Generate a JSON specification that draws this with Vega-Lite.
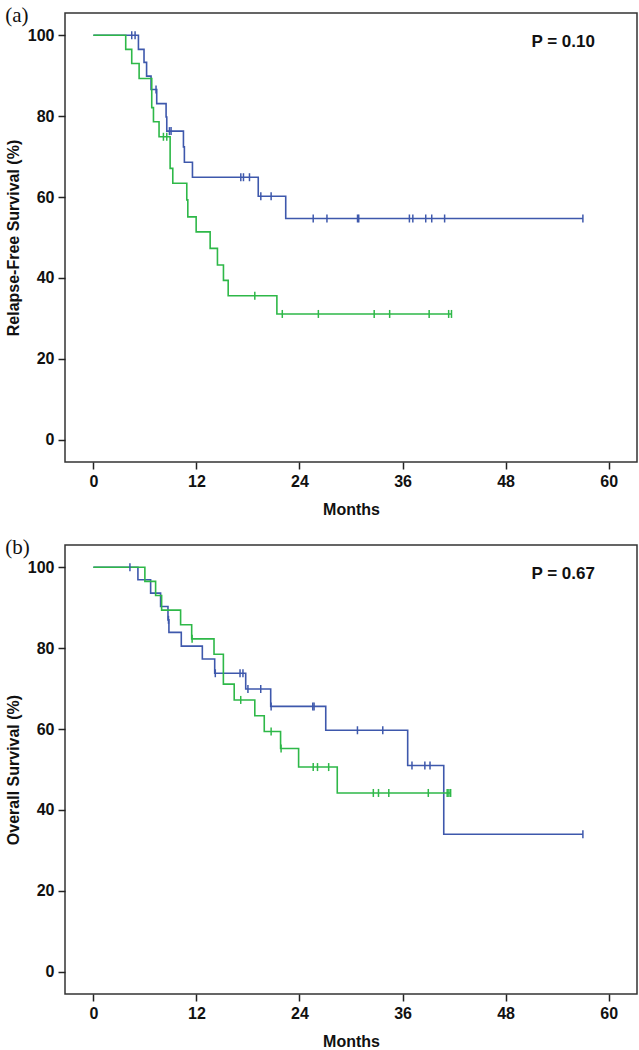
{
  "$schema": "https://vega.github.io/schema/vega-lite/v6.json",
  "background": "white",
  "padding": {"left": 4, "top": 4, "right": 0, "bottom": 0},
  "spacing": 18,
  "config": {
    "view": {"stroke": "#333333", "strokeWidth": 1.5},
    "axis": {
      "grid": false, "domain": false,
      "tickColor": "#222222", "tickSize": 7, "tickWidth": 1.5,
      "labelFont": "Liberation Sans", "labelFontWeight": "bold", "labelFontSize": 16, "labelColor": "#111111", "labelPadding": 4,
      "titleFont": "Liberation Sans", "titleFontWeight": "bold", "titleFontSize": 16, "titleColor": "#111111"
    },
    "title": {"font": "Liberation Serif", "fontSize": 21, "fontWeight": "normal", "color": "#111111", "anchor": "start", "frame": "bounds", "offset": -13}
  },
  "data": {"values": [
    {"p":"a","g":"blue","t":0,"s":100,"c":0},
    {"p":"a","g":"blue","t":4.47,"s":100,"c":1},
    {"p":"a","g":"blue","t":4.86,"s":100,"c":1},
    {"p":"a","g":"blue","t":5.25,"s":96.5,"c":0},
    {"p":"a","g":"blue","t":5.9,"s":93.3,"c":0},
    {"p":"a","g":"blue","t":6.2,"s":89.9,"c":0},
    {"p":"a","g":"blue","t":6.72,"s":86.6,"c":0},
    {"p":"a","g":"blue","t":7.3,"s":86.6,"c":1},
    {"p":"a","g":"blue","t":7.38,"s":83.1,"c":0},
    {"p":"a","g":"blue","t":8.47,"s":79.8,"c":0},
    {"p":"a","g":"blue","t":8.55,"s":76.3,"c":0},
    {"p":"a","g":"blue","t":8.86,"s":76.3,"c":1},
    {"p":"a","g":"blue","t":9.05,"s":76.3,"c":1},
    {"p":"a","g":"blue","t":10.49,"s":72.4,"c":0},
    {"p":"a","g":"blue","t":10.6,"s":68.6,"c":0},
    {"p":"a","g":"blue","t":11.54,"s":64.9,"c":0},
    {"p":"a","g":"blue","t":17.17,"s":64.9,"c":1},
    {"p":"a","g":"blue","t":17.48,"s":64.9,"c":1},
    {"p":"a","g":"blue","t":18.18,"s":64.9,"c":1},
    {"p":"a","g":"blue","t":19.2,"s":60.2,"c":0},
    {"p":"a","g":"blue","t":19.5,"s":60.2,"c":1},
    {"p":"a","g":"blue","t":20.7,"s":60.2,"c":1},
    {"p":"a","g":"blue","t":22.4,"s":54.7,"c":0},
    {"p":"a","g":"blue","t":25.6,"s":54.7,"c":1},
    {"p":"a","g":"blue","t":27.2,"s":54.7,"c":1},
    {"p":"a","g":"blue","t":30.76,"s":54.7,"c":1},
    {"p":"a","g":"blue","t":30.9,"s":54.7,"c":1},
    {"p":"a","g":"blue","t":36.8,"s":54.7,"c":1},
    {"p":"a","g":"blue","t":37.2,"s":54.7,"c":1},
    {"p":"a","g":"blue","t":38.7,"s":54.7,"c":1},
    {"p":"a","g":"blue","t":39.4,"s":54.7,"c":1},
    {"p":"a","g":"blue","t":40.9,"s":54.7,"c":1},
    {"p":"a","g":"blue","t":57.0,"s":54.7,"c":1},
    {"p":"a","g":"green","t":0,"s":100,"c":0},
    {"p":"a","g":"green","t":3.77,"s":96.5,"c":0},
    {"p":"a","g":"green","t":4.47,"s":93.0,"c":0},
    {"p":"a","g":"green","t":5.33,"s":89.3,"c":0},
    {"p":"a","g":"green","t":6.8,"s":82.1,"c":0},
    {"p":"a","g":"green","t":7.0,"s":78.6,"c":0},
    {"p":"a","g":"green","t":7.65,"s":74.9,"c":0},
    {"p":"a","g":"green","t":8.16,"s":74.9,"c":1},
    {"p":"a","g":"green","t":8.55,"s":74.9,"c":1},
    {"p":"a","g":"green","t":8.94,"s":67.1,"c":0},
    {"p":"a","g":"green","t":9.25,"s":63.4,"c":0},
    {"p":"a","g":"green","t":10.88,"s":59.3,"c":0},
    {"p":"a","g":"green","t":11.0,"s":55.1,"c":0},
    {"p":"a","g":"green","t":11.97,"s":51.4,"c":0},
    {"p":"a","g":"green","t":13.6,"s":47.3,"c":0},
    {"p":"a","g":"green","t":14.45,"s":43.2,"c":0},
    {"p":"a","g":"green","t":15.15,"s":39.4,"c":0},
    {"p":"a","g":"green","t":15.7,"s":35.6,"c":0},
    {"p":"a","g":"green","t":18.8,"s":35.6,"c":1},
    {"p":"a","g":"green","t":21.37,"s":31.1,"c":0},
    {"p":"a","g":"green","t":22.0,"s":31.1,"c":1},
    {"p":"a","g":"green","t":26.2,"s":31.1,"c":1},
    {"p":"a","g":"green","t":32.7,"s":31.1,"c":1},
    {"p":"a","g":"green","t":34.5,"s":31.1,"c":1},
    {"p":"a","g":"green","t":39.1,"s":31.1,"c":1},
    {"p":"a","g":"green","t":41.37,"s":31.1,"c":1},
    {"p":"a","g":"green","t":41.7,"s":31.1,"c":1},
    {"p":"b","g":"blue","t":0,"s":100,"c":0},
    {"p":"b","g":"blue","t":4.26,"s":100,"c":1},
    {"p":"b","g":"blue","t":5.19,"s":96.9,"c":0},
    {"p":"b","g":"blue","t":6.67,"s":93.6,"c":0},
    {"p":"b","g":"blue","t":7.83,"s":90.3,"c":0},
    {"p":"b","g":"blue","t":8.69,"s":87.0,"c":0},
    {"p":"b","g":"blue","t":8.75,"s":87.0,"c":1},
    {"p":"b","g":"blue","t":8.8,"s":83.9,"c":0},
    {"p":"b","g":"blue","t":10.24,"s":80.5,"c":0},
    {"p":"b","g":"blue","t":12.69,"s":77.3,"c":0},
    {"p":"b","g":"blue","t":14.13,"s":73.8,"c":0},
    {"p":"b","g":"blue","t":14.2,"s":73.8,"c":1},
    {"p":"b","g":"blue","t":17.08,"s":73.8,"c":1},
    {"p":"b","g":"blue","t":17.42,"s":73.8,"c":1},
    {"p":"b","g":"blue","t":17.74,"s":69.9,"c":0},
    {"p":"b","g":"blue","t":18.0,"s":69.9,"c":1},
    {"p":"b","g":"blue","t":19.49,"s":69.9,"c":1},
    {"p":"b","g":"blue","t":20.65,"s":65.6,"c":0},
    {"p":"b","g":"blue","t":20.7,"s":65.6,"c":1},
    {"p":"b","g":"blue","t":25.55,"s":65.6,"c":1},
    {"p":"b","g":"blue","t":25.7,"s":65.6,"c":1},
    {"p":"b","g":"blue","t":27.06,"s":59.7,"c":0},
    {"p":"b","g":"blue","t":30.75,"s":59.7,"c":1},
    {"p":"b","g":"blue","t":33.7,"s":59.7,"c":1},
    {"p":"b","g":"blue","t":36.6,"s":51.0,"c":0},
    {"p":"b","g":"blue","t":37.1,"s":51.0,"c":1},
    {"p":"b","g":"blue","t":38.6,"s":51.0,"c":1},
    {"p":"b","g":"blue","t":39.2,"s":51.0,"c":1},
    {"p":"b","g":"blue","t":40.8,"s":34.0,"c":0},
    {"p":"b","g":"blue","t":57.0,"s":34.0,"c":1},
    {"p":"b","g":"green","t":0,"s":100,"c":0},
    {"p":"b","g":"green","t":6.0,"s":96.5,"c":0},
    {"p":"b","g":"green","t":7.25,"s":93.0,"c":0},
    {"p":"b","g":"green","t":7.95,"s":89.4,"c":0},
    {"p":"b","g":"green","t":10.16,"s":85.8,"c":0},
    {"p":"b","g":"green","t":11.45,"s":82.3,"c":0},
    {"p":"b","g":"green","t":11.5,"s":82.3,"c":1},
    {"p":"b","g":"green","t":14.05,"s":78.5,"c":0},
    {"p":"b","g":"green","t":15.14,"s":71.1,"c":0},
    {"p":"b","g":"green","t":16.4,"s":67.2,"c":0},
    {"p":"b","g":"green","t":17.16,"s":67.2,"c":1},
    {"p":"b","g":"green","t":18.8,"s":63.3,"c":0},
    {"p":"b","g":"green","t":19.9,"s":59.4,"c":0},
    {"p":"b","g":"green","t":20.7,"s":59.4,"c":1},
    {"p":"b","g":"green","t":21.8,"s":55.2,"c":0},
    {"p":"b","g":"green","t":21.86,"s":55.2,"c":1},
    {"p":"b","g":"green","t":23.9,"s":50.6,"c":0},
    {"p":"b","g":"green","t":25.6,"s":50.6,"c":1},
    {"p":"b","g":"green","t":26.1,"s":50.6,"c":1},
    {"p":"b","g":"green","t":27.4,"s":50.6,"c":1},
    {"p":"b","g":"green","t":28.4,"s":44.2,"c":0},
    {"p":"b","g":"green","t":32.6,"s":44.2,"c":1},
    {"p":"b","g":"green","t":33.2,"s":44.2,"c":1},
    {"p":"b","g":"green","t":34.4,"s":44.2,"c":1},
    {"p":"b","g":"green","t":39.0,"s":44.2,"c":1},
    {"p":"b","g":"green","t":41.2,"s":44.2,"c":1},
    {"p":"b","g":"green","t":41.4,"s":44.2,"c":1},
    {"p":"b","g":"green","t":41.6,"s":44.2,"c":1}
  ]},
  "vconcat": [
    {
      "title": {"text": "(a)"},
      "width": 572, "height": 449,
      "layer": [
        {
          "transform": [{"filter": "datum.p == 'a'"}],
          "mark": {"type": "line", "interpolate": "step-after", "strokeWidth": 1.6},
          "encoding": {
            "x": {"field": "t", "type": "quantitative", "scale": {"domain": [-3.3, 63.3], "nice": false, "zero": false}, "axis": {"values": [0, 12, 24, 36, 48, 60], "title": "Months", "titlePadding": 12}},
            "y": {"field": "s", "type": "quantitative", "scale": {"domain": [-5.5, 105.5], "nice": false, "zero": false}, "axis": {"values": [0, 20, 40, 60, 80, 100], "title": "Relapse-Free Survival (%)", "titlePadding": 6}},
            "color": {"field": "g", "type": "nominal", "scale": {"domain": ["blue", "green"], "range": ["#3E58AC", "#2EB848"]}, "legend": null}
          }
        },
        {
          "transform": [{"filter": "datum.p == 'a' && datum.c == 1"}],
          "mark": {"type": "point", "shape": "M0,-1L0,1", "size": 64, "strokeWidth": 1.5, "filled": false, "opacity": 1},
          "encoding": {
            "x": {"field": "t", "type": "quantitative"},
            "y": {"field": "s", "type": "quantitative"},
            "color": {"field": "g", "type": "nominal", "legend": null}
          }
        },
        {
          "data": {"values": [{"label": "P = 0.10"}]},
          "mark": {"type": "text", "font": "Liberation Sans", "fontWeight": "bold", "fontSize": 17, "color": "#111111"},
          "encoding": {
            "x": {"datum": 54.7, "type": "quantitative"},
            "y": {"datum": 98.3, "type": "quantitative"},
            "text": {"field": "label"}
          }
        }
      ]
    },
    {
      "title": {"text": "(b)"},
      "width": 572, "height": 449,
      "layer": [
        {
          "transform": [{"filter": "datum.p == 'b'"}],
          "mark": {"type": "line", "interpolate": "step-after", "strokeWidth": 1.6},
          "encoding": {
            "x": {"field": "t", "type": "quantitative", "scale": {"domain": [-3.3, 63.3], "nice": false, "zero": false}, "axis": {"values": [0, 12, 24, 36, 48, 60], "title": "Months", "titlePadding": 12}},
            "y": {"field": "s", "type": "quantitative", "scale": {"domain": [-5.5, 105.5], "nice": false, "zero": false}, "axis": {"values": [0, 20, 40, 60, 80, 100], "title": "Overall Survival (%)", "titlePadding": 6}},
            "color": {"field": "g", "type": "nominal", "scale": {"domain": ["blue", "green"], "range": ["#3E58AC", "#2EB848"]}, "legend": null}
          }
        },
        {
          "transform": [{"filter": "datum.p == 'b' && datum.c == 1"}],
          "mark": {"type": "point", "shape": "M0,-1L0,1", "size": 64, "strokeWidth": 1.5, "filled": false, "opacity": 1},
          "encoding": {
            "x": {"field": "t", "type": "quantitative"},
            "y": {"field": "s", "type": "quantitative"},
            "color": {"field": "g", "type": "nominal", "legend": null}
          }
        },
        {
          "data": {"values": [{"label": "P = 0.67"}]},
          "mark": {"type": "text", "font": "Liberation Sans", "fontWeight": "bold", "fontSize": 17, "color": "#111111"},
          "encoding": {
            "x": {"datum": 54.7, "type": "quantitative"},
            "y": {"datum": 98.3, "type": "quantitative"},
            "text": {"field": "label"}
          }
        }
      ]
    }
  ]
}
